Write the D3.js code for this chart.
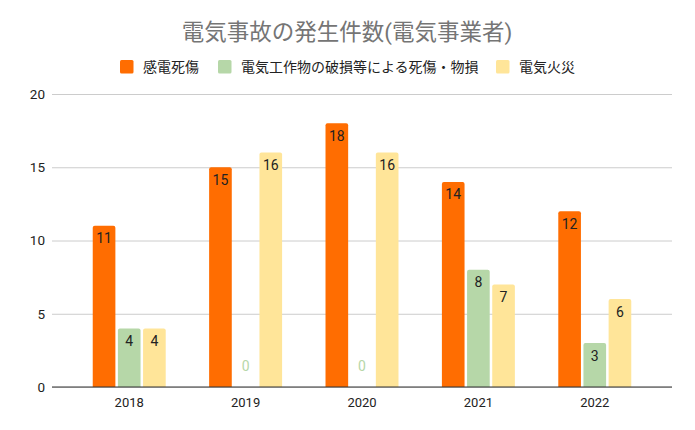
<!DOCTYPE html>
<html><head><meta charset="utf-8">
<script src="https://cdn.jsdelivr.net/npm/d3@7"></script>
<style>
html,body{margin:0;padding:0;background:#fff;}
svg{display:block;font-family:Roboto,"Noto Sans CJK JP",sans-serif;}
</style></head>
<body>
<svg id="chart" width="695" height="430"></svg>
<script>
const title = "電気事故の発生件数(電気事業者)";
const years = ["2018","2019","2020","2021","2022"];
const seriesNames = ["感電死傷","電気工作物の破損等による死傷・物損","電気火災"];
const seriesColors = ["#ff6d01","#b6d7a8","#ffe599"];
const shockValues = [11,15,18,14,12];
const damageValues = [4,0,0,8,3];
const fireValues = [4,16,16,7,6];
const yTicks = [0,5,10,15,20];

const seriesValues = [shockValues, damageValues, fireValues];
const svg = d3.select("#chart");

const y = d3.scaleLinear().domain([0,20]).range([387,94]);
const x = d3.scaleBand().domain(years).range([52,672]).paddingInner(0.373).paddingOuter(0.35);
const xs = d3.scaleBand().domain(d3.range(3)).range([0,x.bandwidth()]).paddingInner(0.1);

// title
svg.append("text").attr("x",347).attr("y",40).attr("text-anchor","middle")
  .attr("font-size",22.5).attr("fill","#757575").text(title);

// legend
const legendX = [120,218,496];
seriesNames.forEach((n,i)=>{
  svg.append("rect").attr("x",legendX[i]).attr("y",60).attr("width",13.5).attr("height",13.5)
    .attr("rx",1.5).attr("fill",seriesColors[i]);
  svg.append("text").attr("x",legendX[i]+23).attr("y",72).attr("font-size",14)
    .attr("fill","#222").text(n);
});

// gridlines
const yAxis = d3.axisLeft(y).tickValues(yTicks).tickSize(-620).tickPadding(8);
const gy = svg.append("g").attr("transform","translate(52,0)").call(yAxis);
gy.select(".domain").remove();
gy.selectAll(".tick line").attr("stroke","#cccccc").attr("stroke-width",1);
gy.selectAll(".tick text").attr("font-size",13.5).attr("fill","#222")
  .attr("font-family",'Roboto,"Noto Sans CJK JP",sans-serif').attr("x",-7);

// bars
years.forEach((yr,gi)=>{
  seriesValues.forEach((vals,si)=>{
    const v = vals[gi];
    const bx = x(yr)+xs(si), bw = xs.bandwidth();
    if (v>0){
      const top = y(v), h = y(0)-y(v), r = 2;
      svg.append("path").attr("fill",seriesColors[si])
        .attr("d",`M${bx},${y(0)} V${top+r} Q${bx},${top} ${bx+r},${top} H${bx+bw-r} Q${bx+bw},${top} ${bx+bw},${top+r} V${y(0)} Z`);
      svg.append("text").attr("x",bx+bw/2).attr("y",top+17.5).attr("text-anchor","middle")
        .attr("font-size",14).attr("fill","#222").text(v);
    } else {
      svg.append("text").attr("x",bx+bw/2).attr("y",y(0)-16).attr("text-anchor","middle")
        .attr("font-size",14).attr("fill",seriesColors[si]).text(v);
    }
  });
});

// x axis
const xAxis = d3.axisBottom(x).tickSize(0).tickPadding(11);
const gx = svg.append("g").attr("transform",`translate(0,${y(0)})`).call(xAxis);
gx.select(".domain").remove();
svg.append("line").attr("x1",52).attr("x2",672).attr("y1",y(0)).attr("y2",y(0))
  .attr("stroke","#333").attr("stroke-width",1.2);
gx.selectAll(".tick text").attr("font-size",13).attr("fill","#222")
  .attr("font-family",'Roboto,"Noto Sans CJK JP",sans-serif');
</script>
</body></html>
